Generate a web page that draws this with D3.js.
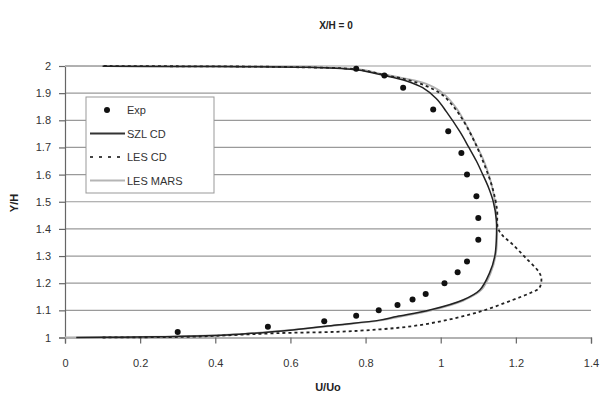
<!DOCTYPE html>
<html>
<head>
<meta charset="utf-8">
<script src="https://cdn.jsdelivr.net/npm/d3@7/dist/d3.min.js"></script>
<style>
  html, body { margin: 0; padding: 0; background: #fff; }
  svg { display: block; font-family: "Liberation Sans", Arial, sans-serif; }
</style>
</head>
<body>
<svg id="chart" width="606" height="397"></svg>
<script>
// Velocity profile at X/H = 0: measured points and three simulations
const title = "X/H = 0";
const xLabel = "U/Uo";
const yLabel = "Y/H";
const xTicks = [0, 0.2, 0.4, 0.6, 0.8, 1, 1.2, 1.4];
const yTicks = [1, 1.1, 1.2, 1.3, 1.4, 1.5, 1.6, 1.7, 1.8, 1.9, 2];

// Experiment
const expU = [0.30, 0.54, 0.69, 0.775, 0.835, 0.885, 0.925, 0.96, 1.01, 1.045, 1.07, 1.10, 1.10, 1.095, 1.07, 1.055, 1.02, 0.98, 0.90, 0.85, 0.775];
const expY = [1.02, 1.04, 1.06, 1.08, 1.10, 1.12, 1.14, 1.16, 1.20, 1.24, 1.28, 1.36, 1.44, 1.52, 1.60, 1.68, 1.76, 1.84, 1.92, 1.965, 1.99];

// SZL CD
const szlU = [0.03, 0.15, 0.25, 0.43, 0.606, 0.723, 0.838, 0.883, 0.971, 1.059, 1.104, 1.130, 1.144, 1.148, 1.148, 1.140, 1.128, 1.112, 1.095, 1.075, 1.051, 1.015, 0.988, 0.952, 0.909, 0.846, 0.78, 0.65, 0.40, 0.10];
const szlY = [1.000, 1.001, 1.003, 1.009, 1.028, 1.046, 1.064, 1.077, 1.101, 1.138, 1.175, 1.238, 1.300, 1.360, 1.433, 1.500, 1.550, 1.600, 1.650, 1.700, 1.758, 1.832, 1.880, 1.920, 1.945, 1.966, 1.985, 1.995, 1.998, 1.999];

// LES CD
const lesCdU = [0.10, 0.34, 0.43, 0.563, 0.723, 0.838, 0.926, 1.015, 1.104, 1.191, 1.240, 1.262, 1.268, 1.262, 1.225, 1.190, 1.165, 1.152, 1.150, 1.138, 1.118, 1.097, 1.068, 1.040, 1.003, 0.955, 0.90, 0.846, 0.78, 0.60, 0.30, 0.10];
const lesCdY = [1.000, 1.003, 1.008, 1.016, 1.021, 1.030, 1.042, 1.064, 1.095, 1.138, 1.165, 1.182, 1.215, 1.240, 1.295, 1.345, 1.375, 1.405, 1.470, 1.550, 1.630, 1.700, 1.780, 1.840, 1.895, 1.930, 1.953, 1.968, 1.987, 1.996, 1.999, 2.000];

// LES MARS
const marsU = [0.00, 0.15, 0.30, 0.45, 0.61, 0.73, 0.84, 0.89, 0.975, 1.062, 1.108, 1.133, 1.146, 1.150, 1.149, 1.142, 1.128, 1.112, 1.095, 1.068, 1.042, 1.006, 0.960, 0.90, 0.846, 0.78, 0.50, 0.20, 0.00];
const marsY = [1.000, 1.002, 1.004, 1.011, 1.029, 1.046, 1.063, 1.076, 1.100, 1.137, 1.175, 1.238, 1.300, 1.360, 1.433, 1.520, 1.600, 1.660, 1.709, 1.783, 1.844, 1.900, 1.935, 1.955, 1.970, 1.988, 1.998, 1.999, 2.000];

const svg = d3.select("#chart");
const plotLeft = 65, plotRight = 591, plotTop = 66, plotBottom = 337.5;

const x = d3.scaleLinear().domain([0, 1.4]).range([plotLeft, plotRight]);
const y = d3.scaleLinear().domain([1, 2]).range([plotBottom, plotTop]);

// Title
svg.append("text")
  .attr("x", 336).attr("y", 29)
  .attr("text-anchor", "middle")
  .attr("font-size", 10).attr("font-weight", "bold").attr("fill", "#222")
  .text(title);

// Horizontal gridlines
svg.append("g")
  .selectAll("line")
  .data(yTicks.filter(d => d > 1))
  .join("line")
  .attr("x1", plotLeft).attr("x2", plotRight)
  .attr("y1", d => y(d)).attr("y2", d => y(d))
  .attr("stroke", "#9a9a9a").attr("stroke-width", 1.2);

// Axes
const xAxis = d3.axisBottom(x).tickValues(xTicks).tickSize(6).tickPadding(16)
  .tickFormat(d3.format("~g"));
const yAxis = d3.axisLeft(y).tickValues(yTicks).tickSize(6).tickPadding(8)
  .tickFormat(d3.format("~g"));

const gx = svg.append("g").attr("transform", `translate(0,${plotBottom})`).call(xAxis);
const gy = svg.append("g").attr("transform", `translate(${plotLeft},0)`).call(yAxis);
[gx, gy].forEach(g => {
  g.select(".domain").attr("stroke", "#666").attr("stroke-width", 1.2);
  g.selectAll(".tick line").attr("stroke", "#666").attr("stroke-width", 1.2);
  g.selectAll(".tick text").attr("font-size", 11).attr("fill", "#333")
    .attr("font-family", "Liberation Sans, Arial, sans-serif");
});

// Axis titles
svg.append("text")
  .attr("x", 328).attr("y", 391)
  .attr("text-anchor", "middle")
  .attr("font-size", 11).attr("font-weight", "bold").attr("fill", "#222")
  .text(xLabel);
svg.append("text")
  .attr("transform", "translate(18,203) rotate(-90)")
  .attr("text-anchor", "middle")
  .attr("font-size", 11).attr("font-weight", "bold").attr("fill", "#222")
  .text(yLabel);

// Curves
const line = d3.line().x(d => x(d[0])).y(d => y(d[1])).curve(d3.curveCatmullRom.alpha(0.5));
const zip = (a, b) => a.map((v, i) => [v, b[i]]);

svg.append("path").datum(zip(marsU, marsY)).attr("d", line)
  .attr("fill", "none").attr("stroke", "#b0b0b0").attr("stroke-width", 1.8);
svg.append("path").datum(zip(lesCdU, lesCdY)).attr("d", line)
  .attr("fill", "none").attr("stroke", "#222").attr("stroke-width", 1.8)
  .attr("stroke-dasharray", "3,3");
svg.append("path").datum(zip(szlU, szlY)).attr("d", line)
  .attr("fill", "none").attr("stroke", "#222").attr("stroke-width", 1.5);

// Experimental points
svg.append("g").selectAll("circle")
  .data(zip(expU, expY))
  .join("circle")
  .attr("cx", d => x(d[0])).attr("cy", d => y(d[1]))
  .attr("r", 3).attr("fill", "#111");

// Legend
const legend = svg.append("g");
legend.append("rect")
  .attr("x", 86).attr("y", 97).attr("width", 128).attr("height", 96)
  .attr("fill", "#fff").attr("stroke", "#999").attr("stroke-width", 1);

const entries = [
  { name: "Exp", type: "dot" },
  { name: "SZL CD", type: "solid" },
  { name: "LES CD", type: "dash" },
  { name: "LES MARS", type: "gray" }
];
const rowY = [110, 133.5, 157, 180.5];
entries.forEach((e, i) => {
  const yy = rowY[i];
  if (e.type === "dot") {
    legend.append("circle").attr("cx", 107).attr("cy", yy).attr("r", 3).attr("fill", "#111");
  } else {
    const l = legend.append("line").attr("x1", 90).attr("x2", 125).attr("y1", yy).attr("y2", yy)
      .attr("fill", "none");
    if (e.type === "solid") l.attr("stroke", "#333").attr("stroke-width", 2);
    if (e.type === "dash") l.attr("stroke", "#444").attr("stroke-width", 2).attr("stroke-dasharray", "3,6");
    if (e.type === "gray") l.attr("stroke", "#b5b5b5").attr("stroke-width", 1.8);
  }
  legend.append("text")
    .attr("x", 127).attr("y", yy + 4)
    .attr("font-size", 11).attr("fill", "#333")
    .text(e.name);
});
</script>
</body>
</html>
